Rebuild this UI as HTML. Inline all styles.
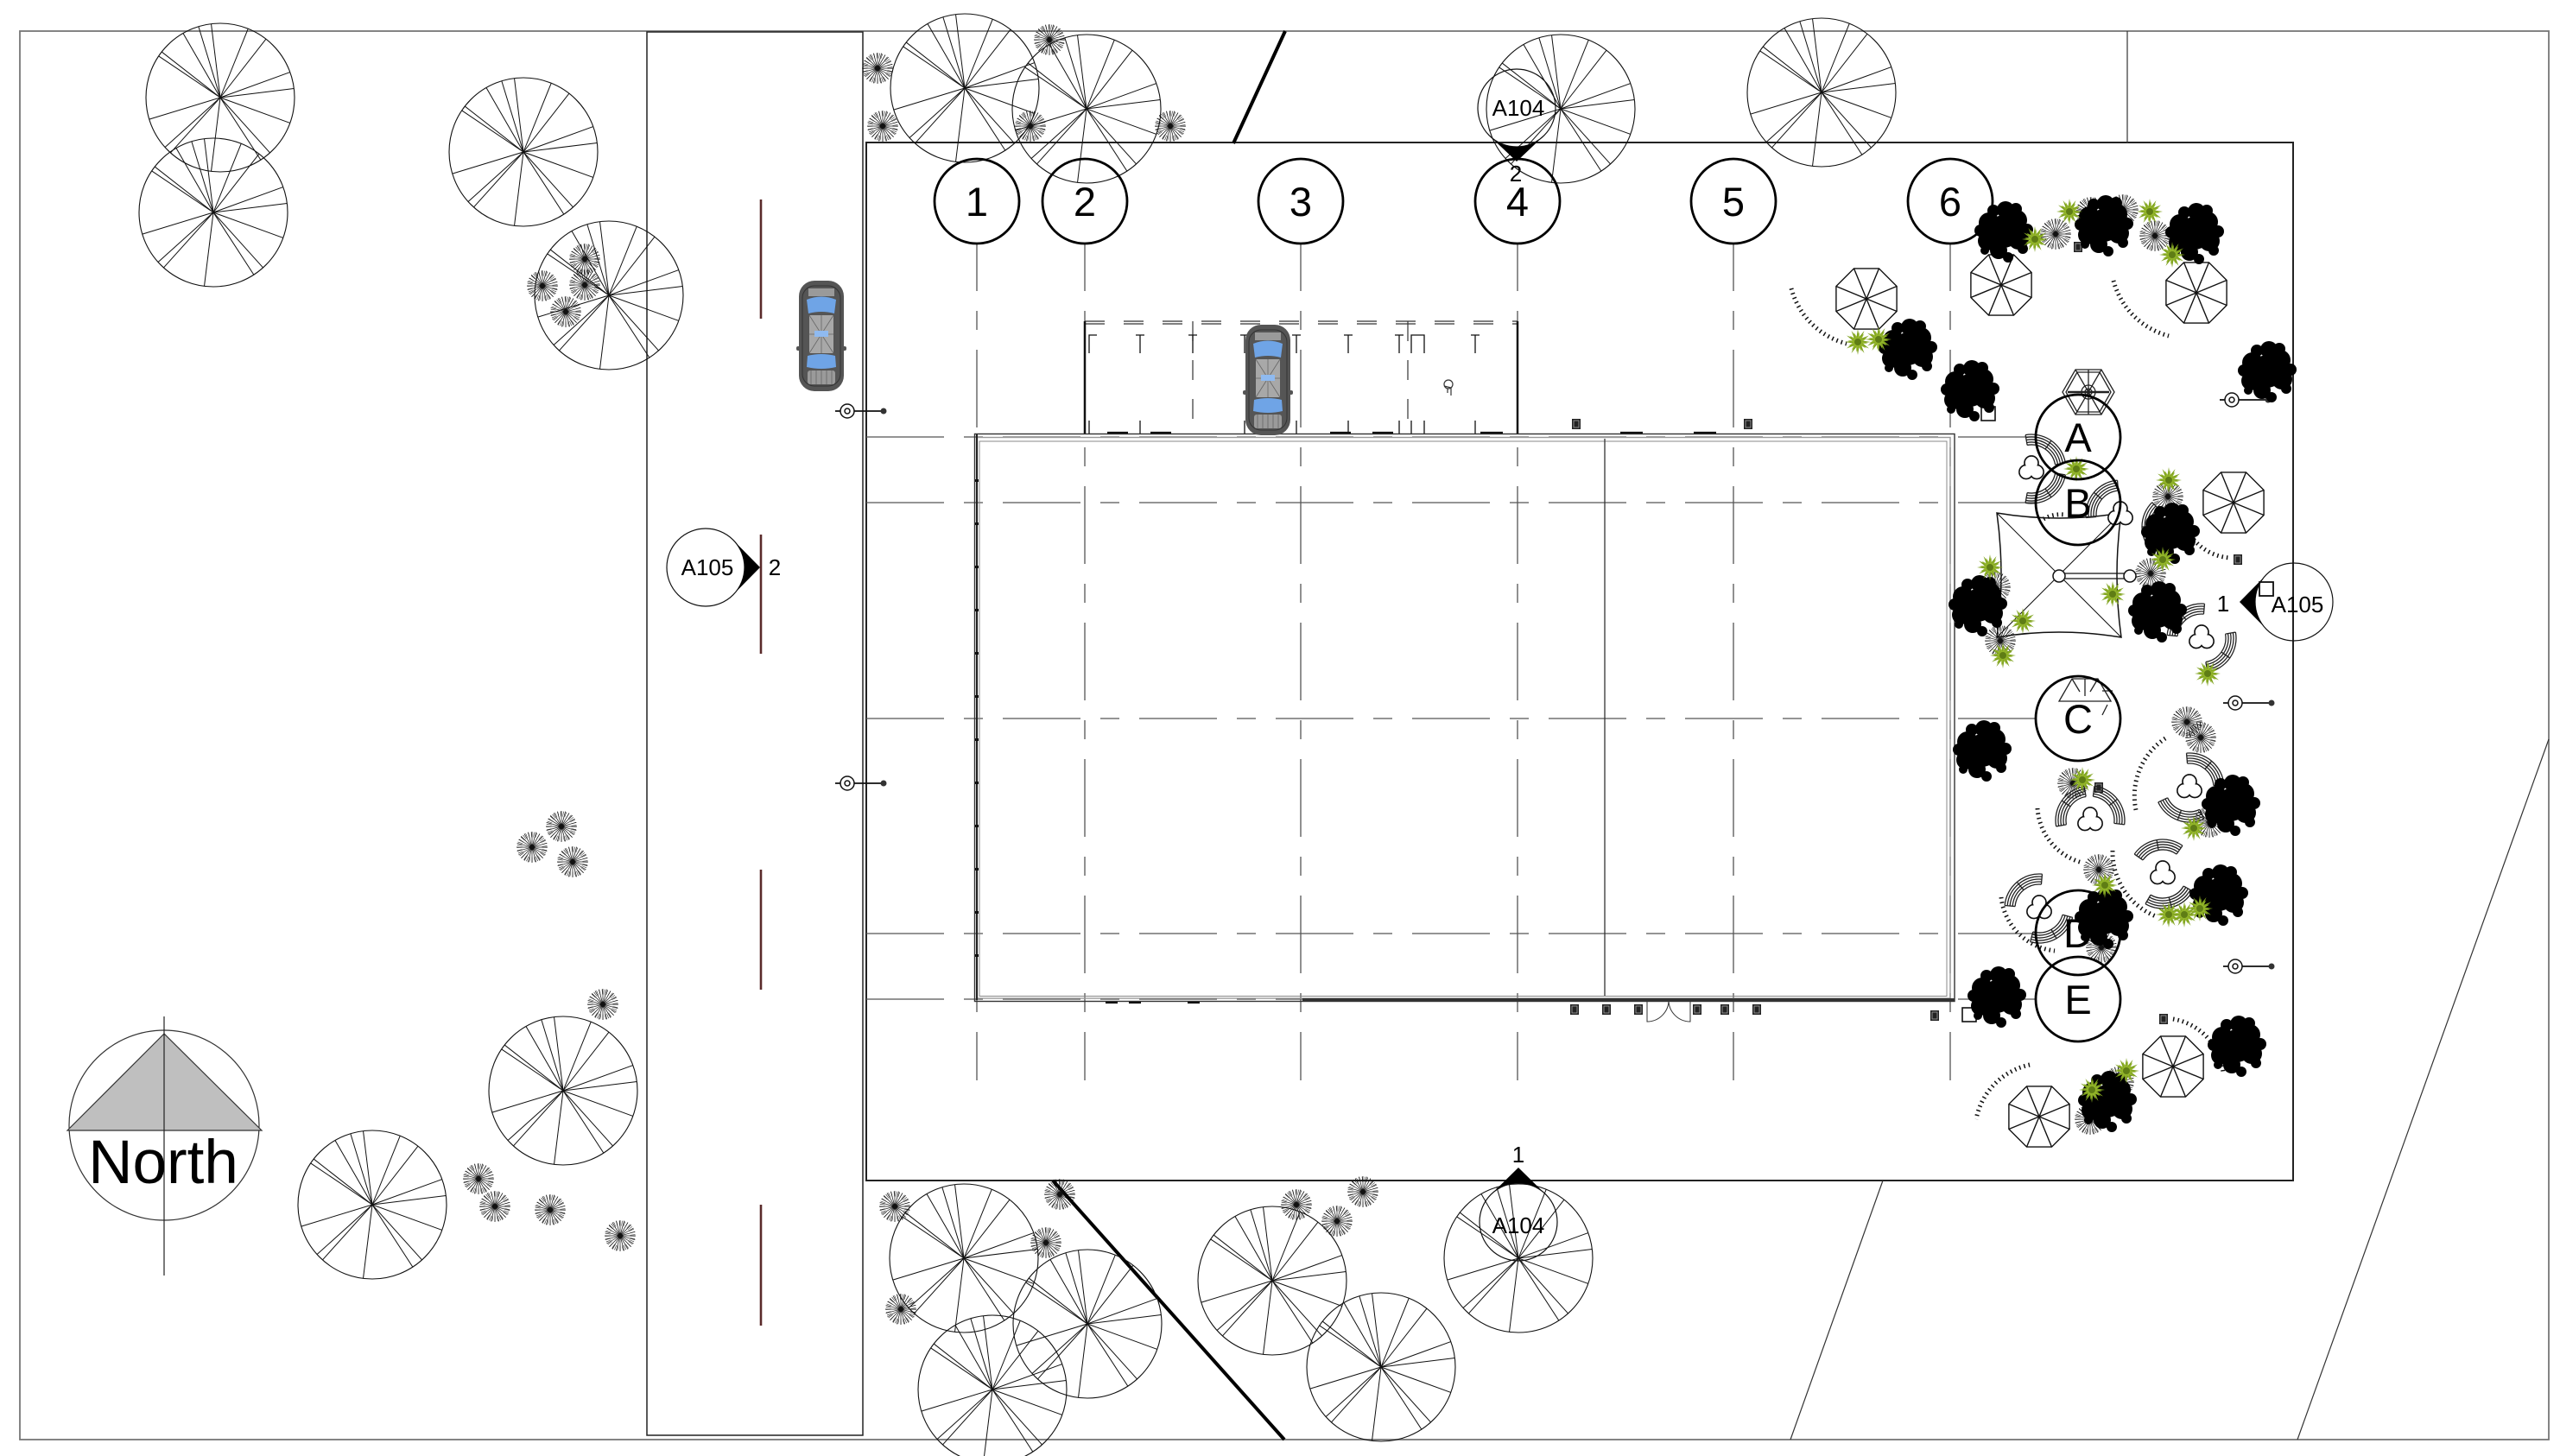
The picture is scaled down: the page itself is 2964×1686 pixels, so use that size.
<!DOCTYPE html>
<html><head><meta charset="utf-8">
<style>
html,body{margin:0;padding:0;background:#fff;}
svg{display:block;}
text{font-family:"Liberation Sans",Arial,sans-serif;fill:#000;}
</style></head>
<body>
<svg width="2964" height="1686" viewBox="0 0 2964 1686" xmlns="http://www.w3.org/2000/svg">
<defs>
<g id="tree" fill="none" stroke="#111" stroke-width="1">
 <circle r="86" stroke-width="1.1"/>
 <line x2="86" transform="rotate(-146)"/><line x2="86" transform="rotate(-142)"/>
 <line x2="86" transform="rotate(-120)"/><line x2="86" transform="rotate(-107)"/>
 <line x2="86" transform="rotate(-97)"/><line x2="86" transform="rotate(-68)"/>
 <line x2="86" transform="rotate(-52)"/><line x2="86" transform="rotate(-20)"/>
 <line x2="86" transform="rotate(-7)"/><line x2="86" transform="rotate(20)"/>
 <line x2="86" transform="rotate(48)"/><line x2="86" transform="rotate(57)"/>
 <line x2="86" transform="rotate(97)"/><line x2="86" transform="rotate(132)"/>
 <line x2="86" transform="rotate(138)"/><line x2="86" transform="rotate(163)"/>
</g>
<g id="shrub" fill="none" stroke="#111">
 <path stroke-width="0.7" d="M-18 0L18 0M-17.39-4.66L17.39 4.66M-15.59-9L15.59 9M-12.73-12.73L12.73 12.73M-9-15.59L9 15.59M-4.66-17.39L4.66 17.39M0-18L0 18M4.66-17.39L-4.66 17.39M9-15.59L-9 15.59M12.73-12.73L-12.73 12.73M15.59-9L-15.59 9M17.39-4.66L-17.39 4.66"/>
 <circle r="14.5" stroke-width="6" stroke-dasharray="0.5 2.3"/>
</g>
<g id="umb" fill="none" stroke="#111" stroke-width="1.4">
 <polygon points="35.1,14.5 14.5,35.1 -14.5,35.1 -35.1,14.5 -35.1,-14.5 -14.5,-35.1 14.5,-35.1 35.1,-14.5"/>
 <path d="M35.1,14.5L-35.1,-14.5M14.5,35.1L-14.5,-35.1M-14.5,35.1L14.5,-35.1M-35.1,14.5L35.1,-14.5"/>
</g>
<g id="seat" fill="none" stroke="#222" stroke-width="1.3">
 <path d="M19.80,-19.80A28,28 0 0 1 19.80,19.80M21.92,-21.92A31,31 0 0 1 21.92,21.92M24.04,-24.04A34,34 0 0 1 24.04,24.04M26.16,-26.16A37,37 0 0 1 26.16,26.16M28.28,-28.28A40,40 0 0 1 28.28,28.28M19.80,-19.80L28.28,-28.28M19.80,19.80L28.28,28.28M28,0L40,0"/>
</g>
<g id="tref">
 <g fill="none" stroke="#111" stroke-width="1.7"><circle cx="0" cy="-7" r="8"/><circle cx="6.1" cy="3.5" r="8"/><circle cx="-6.1" cy="3.5" r="8"/></g>
 <g fill="#fff"><circle cx="0" cy="-7" r="7.1"/><circle cx="6.1" cy="3.5" r="7.1"/><circle cx="-6.1" cy="3.5" r="7.1"/><circle r="4"/></g>
</g>
<g id="blob" fill="#000">
 <circle r="19"/><circle cx="-17" cy="-10" r="12"/><circle cx="15" cy="-13" r="12"/>
 <circle cx="-19" cy="11" r="11"/><circle cx="17" cy="9" r="12"/><circle cx="2" cy="-25" r="10"/>
 <circle cx="-6" cy="22" r="10"/><circle cx="5" cy="30" r="6"/><circle cx="-27" cy="-1" r="7"/>
 <circle cx="27" cy="-2" r="7"/><circle cx="-12" cy="-24" r="7"/><circle cx="14" cy="-26" r="7"/>
 <circle cx="22" cy="20" r="6"/><circle cx="-22" cy="22" r="5"/>
</g>
<g id="plant">
 <polygon fill="#7fa21f" points="15,0 5.8,1.55 12.99,7.5 4.24,4.24 7.5,12.99 1.55,5.8 0,15 -1.55,5.8 -7.5,12.99 -4.24,4.24 -12.99,7.5 -5.8,1.55 -15,0 -5.8,-1.55 -12.99,-7.5 -4.24,-4.24 -7.5,-12.99 -1.55,-5.8 0,-15 1.55,-5.8 7.5,-12.99 4.24,-4.24 12.99,-7.5 5.8,-1.55"/>
 <polygon fill="#93b52a" transform="rotate(8) scale(0.8)" points="15,0 5.8,1.55 12.99,7.5 4.24,4.24 7.5,12.99 1.55,5.8 0,15 -1.55,5.8 -7.5,12.99 -4.24,4.24 -12.99,7.5 -5.8,1.55 -15,0 -5.8,-1.55 -12.99,-7.5 -4.24,-4.24 -7.5,-12.99 -1.55,-5.8 0,-15 1.55,-5.8 7.5,-12.99 4.24,-4.24 12.99,-7.5 5.8,-1.55"/>
 <circle r="4" fill="#5f7d15"/>
</g>
<g id="lamp">
 <line x1="-14" x2="42" stroke="#111" stroke-width="1.8"/>
 <circle r="8" fill="#fff" stroke="#111" stroke-width="1.5"/>
 <circle r="3" fill="none" stroke="#111" stroke-width="1.5"/>
 <circle cx="42" r="3.5" fill="#333"/>
</g>
<g id="bin"><rect x="-5" y="-6" width="10" height="12" fill="#222"/><rect x="-3" y="-4" width="6" height="8" fill="none" stroke="#aaa" stroke-width="0.8"/></g>
<g id="car">
 <rect x="0" y="0" width="52" height="128" rx="18" fill="#555"/>
 <rect x="-3" y="76" width="58" height="5" rx="2" fill="#555"/>
 <rect x="4" y="6" width="44" height="116" rx="14" fill="none" stroke="#333" stroke-width="1"/>
 <rect x="11" y="9" width="30" height="9" fill="#9a9a9a"/>
 <path d="M9,22 Q26,15 43,22 L41,38 Q26,34 11,38 Z" fill="#6fa4e6"/>
 <rect x="12" y="40" width="28" height="44" fill="#a8a8a8"/>
 <path d="M12,40 L40,84 M40,40 L12,84 M26,40 L26,84 M12,62 L40,62" stroke="#666" stroke-width="0.8" fill="none"/>
 <rect x="18" y="58" width="16" height="7" fill="#8fbaf0"/>
 <path d="M10,87 Q26,83 42,87 L43,100 Q26,104 9,100 Z" fill="#6fa4e6"/>
 <rect x="10" y="104" width="32" height="16" rx="3" fill="#9a9a9a"/>
 <path d="M14,104 L14,120 M20,104 L20,120 M26,104 L26,120 M32,104 L32,120 M38,104 L38,120" stroke="#666" stroke-width="0.8" fill="none"/>
</g>
</defs>

<!-- outer boundary -->
<rect x="23" y="36" width="2928" height="1631" fill="none" stroke="#777" stroke-width="1.8"/>
<!-- road strip -->
<rect x="749" y="37" width="250" height="1625" fill="none" stroke="#222" stroke-width="1.5"/>
<g stroke="#5a2a2a" stroke-width="2.6">
 <line x1="881" y1="231" x2="881" y2="369"/>
 <line x1="881" y1="619" x2="881" y2="757"/>
 <line x1="881" y1="1007" x2="881" y2="1146"/>
 <line x1="881" y1="1395" x2="881" y2="1535"/>
</g>
<!-- site -->
<rect x="1003" y="165" width="1652" height="1202" fill="none" stroke="#222" stroke-width="2"/>
<!-- diagonals -->
<line x1="1488" y1="36" x2="1428" y2="166" stroke="#000" stroke-width="4"/>
<line x1="1219" y1="1367" x2="1487" y2="1667" stroke="#000" stroke-width="4"/>
<g stroke="#333" stroke-width="1.2">
 <line x1="2463" y1="36" x2="2463" y2="166"/>
 <line x1="2951" y1="856" x2="2660" y2="1667"/>
 <line x1="2180" y1="1367" x2="2073" y2="1667"/>
</g>

<!-- trees -->
<use href="#tree" x="255" y="113"/>
<use href="#tree" x="247" y="246"/>
<use href="#tree" x="606" y="176"/>
<use href="#tree" x="705" y="342"/>
<use href="#tree" x="1117" y="102"/>
<use href="#tree" x="1258" y="126"/>
<use href="#tree" x="1807" y="126"/>
<use href="#tree" x="2109" y="107"/>
<use href="#tree" x="1116" y="1457"/>
<use href="#tree" x="1259" y="1533"/>
<use href="#tree" x="1149" y="1609"/>
<use href="#tree" x="1473" y="1483"/>
<use href="#tree" x="1599" y="1583"/>
<use href="#tree" x="1758" y="1457"/>
<use href="#tree" x="652" y="1263"/>
<use href="#tree" x="431" y="1395"/>

<!-- shrubs -->
<use href="#shrub" x="677" y="300"/><use href="#shrub" x="628" y="331"/><use href="#shrub" x="677" y="330"/><use href="#shrub" x="655" y="361"/>
<use href="#shrub" x="1016" y="79"/><use href="#shrub" x="1022" y="146"/><use href="#shrub" x="1215" y="46"/><use href="#shrub" x="1193" y="146"/><use href="#shrub" x="1355" y="146"/>
<use href="#shrub" x="1036" y="1397"/><use href="#shrub" x="1227" y="1383"/><use href="#shrub" x="1211" y="1439"/><use href="#shrub" x="1043" y="1516"/><use href="#shrub" x="1501" y="1395"/><use href="#shrub" x="1548" y="1414"/><use href="#shrub" x="1578" y="1380"/>
<use href="#shrub" x="650" y="957"/><use href="#shrub" x="616" y="981"/><use href="#shrub" x="663" y="998"/><use href="#shrub" x="698" y="1163"/><use href="#shrub" x="554" y="1365"/><use href="#shrub" x="573" y="1397"/><use href="#shrub" x="637" y="1401"/><use href="#shrub" x="718" y="1431"/>

<!-- grid lines -->
<g stroke="#555" stroke-width="1.3" stroke-dasharray="90 23 22 23" fill="none">
 <line x1="1131" y1="282" x2="1131" y2="1251" stroke-dashoffset="35"/>
 <line x1="1256" y1="282" x2="1256" y2="1251" stroke-dashoffset="35"/>
 <line x1="1506" y1="282" x2="1506" y2="1251" stroke-dashoffset="35"/>
 <line x1="1757" y1="282" x2="1757" y2="1251" stroke-dashoffset="35"/>
 <line x1="2007" y1="282" x2="2007" y2="1251" stroke-dashoffset="35"/>
 <line x1="2258" y1="282" x2="2258" y2="1251" stroke-dashoffset="35"/>
 <line x1="1003" y1="506" x2="2357" y2="506"/>
 <line x1="1003" y1="582" x2="2357" y2="582"/>
 <line x1="1003" y1="832" x2="2357" y2="832"/>
 <line x1="1003" y1="1081" x2="2357" y2="1081"/>
 <line x1="1003" y1="1157" x2="2357" y2="1157"/>
</g>

<!-- building -->
<rect x="1128.5" y="502.5" width="1134.5" height="657" fill="none" stroke="#333" stroke-width="1.4"/>
<rect x="1131.5" y="506.5" width="1126.5" height="649.5" fill="none" stroke="#999" stroke-width="1.4"/>
<rect x="1134" y="511" width="1120" height="642.5" fill="none" stroke="#888" stroke-width="1"/>
<line x1="1131" y1="503" x2="1131" y2="1158" stroke="#222" stroke-width="2"/>
<line x1="1858" y1="508" x2="1858" y2="1153" stroke="#333" stroke-width="1.3"/>
<line x1="1508" y1="1157.5" x2="2263" y2="1157.5" stroke="#333" stroke-width="3"/>
<g fill="#111">
 <rect x="1129" y="555" width="4" height="3"/><rect x="1129" y="605" width="4" height="3"/><rect x="1129" y="655" width="4" height="3"/><rect x="1129" y="705" width="4" height="3"/><rect x="1129" y="755" width="4" height="3"/><rect x="1129" y="805" width="4" height="3"/><rect x="1129" y="855" width="4" height="3"/><rect x="1129" y="905" width="4" height="3"/><rect x="1129" y="955" width="4" height="3"/><rect x="1129" y="1005" width="4" height="3"/><rect x="1129" y="1055" width="4" height="3"/><rect x="1129" y="1105" width="4" height="3"/>
</g>
<!-- wheel stops -->
<g stroke="#111" stroke-width="2.2">
 <line x1="1282" y1="501" x2="1306" y2="501"/><line x1="1332" y1="501" x2="1356" y2="501"/><line x1="1540" y1="501" x2="1564" y2="501"/><line x1="1589" y1="501" x2="1613" y2="501"/><line x1="1714" y1="501" x2="1740" y2="501"/><line x1="1876" y1="501" x2="1902" y2="501"/><line x1="1961" y1="501" x2="1987" y2="501"/>
 <line x1="1280" y1="1161" x2="1294" y2="1161"/><line x1="1307" y1="1161" x2="1321" y2="1161"/><line x1="1375" y1="1161" x2="1389" y2="1161"/>
</g>
<!-- parking -->
<g fill="none" stroke="#333" stroke-width="1.2" stroke-dasharray="23 22">
 <line x1="1256" y1="372" x2="1757" y2="372"/>
 <line x1="1256" y1="375" x2="1757" y2="375"/>
 <line x1="1381" y1="372" x2="1381" y2="502"/>
 <line x1="1630" y1="372" x2="1630" y2="502"/>
</g>
<line x1="1256" y1="372" x2="1256" y2="502" stroke="#111" stroke-width="2.5"/>
<line x1="1757" y1="372" x2="1757" y2="502" stroke="#111" stroke-width="2.5"/>
<g stroke="#111" stroke-width="1.3" fill="none">
 <path d="M1261,409V388H1270M1261,487V502"/>
 <path d="M1320,409V388M1315,388H1325M1320,487V502"/>
 <path d="M1381,409V388M1376,388H1386"/>
 <path d="M1441,409V388M1436,388H1446M1441,487V502"/>
 <path d="M1501,409V388M1496,388H1506M1501,487V502"/>
 <path d="M1561,409V388M1556,388H1566M1561,487V502"/>
 <path d="M1620,409V388M1615,388H1625M1620,487V502"/>
 <path d="M1634,409V388H1649V409M1634,487V502M1649,487V502"/>
 <path d="M1708,409V388M1703,388H1713M1708,487V502"/>
</g>
<g fill="none" stroke="#333" stroke-width="1.2">
 <circle cx="1677" cy="445" r="5"/><path d="M1672,447 L1680,449 L1680,458 M1676,450 L1676,455"/>
</g>
<!-- cars -->
<use href="#car" x="925" y="325"/>
<use href="#car" x="1442" y="376"/>
<!-- lamps -->
<use href="#lamp" x="981" y="476"/>
<use href="#lamp" x="981" y="907"/>
<use href="#lamp" x="2584" y="463"/>
<use href="#lamp" x="2588" y="814"/>
<use href="#lamp" x="2588" y="1119"/>
<!-- bins -->
<use href="#bin" x="1825" y="491"/><use href="#bin" x="2024" y="491"/><use href="#bin" x="2406" y="286"/><use href="#bin" x="2591" y="648"/><use href="#bin" x="2430" y="912"/><use href="#bin" x="2505" y="1180"/>
<use href="#bin" x="1823" y="1169"/><use href="#bin" x="1860" y="1169"/><use href="#bin" x="1897" y="1169"/><use href="#bin" x="1965" y="1169"/><use href="#bin" x="1997" y="1169"/><use href="#bin" x="2034" y="1169"/><use href="#bin" x="2240" y="1176"/>
<g fill="#fff" stroke="#111" stroke-width="1.6">
 <rect x="2294" y="471" width="16" height="16"/>
 <rect x="2272" y="1167" width="16" height="16"/>
 <rect x="2616" y="674" width="16" height="16"/>
</g>
<!-- door -->
<path d="M1907,1158 L1907,1183 A25,25 0 0 0 1932,1158 M1957,1158 L1957,1183 A25,25 0 0 1 1932,1158" fill="none" stroke="#333" stroke-width="1"/>

<!-- landscape right -->
<g fill="none" stroke="#111" stroke-width="5" stroke-dasharray="1.5 4">
 <path d="M2074,334 A90,90 0 0 0 2138,398"/>
 <path d="M2447,325 A90,90 0 0 0 2511,389"/>
 <path d="M2540,625 A60,60 0 0 0 2583,646"/>
 <path d="M2507,855 A80,80 0 0 0 2473,938"/>
 <path d="M2359,936 A70,70 0 0 0 2411,999"/>
 <path d="M2446,985 A80,80 0 0 0 2496,1061"/>
 <path d="M2317,1039 A70,70 0 0 0 2379,1101"/>
 <path d="M2516,1180 A70,70 0 0 1 2574,1242"/>
 <path d="M2350,1233 A80,80 0 0 0 2288,1296"/>
 <path d="M2366,601 A40,40 0 0 1 2390,596"/>
</g>
<use href="#umb" x="2317" y="330"/>
<use href="#umb" x="2543" y="339"/>
<use href="#umb" x="2161" y="346"/>
<use href="#umb" x="2586" y="582"/>
<use href="#umb" x="2516" y="1235"/>
<use href="#umb" x="2361" y="1293"/>
<!-- hexagons -->
<g fill="none" stroke="#222" stroke-width="1.3">
 <polygon points="2448,454 2433,428 2403,428 2388,454 2403,480 2433,480"/>
 <polygon points="2444,454 2431,431 2405,431 2392,454 2405,477 2431,477"/>
 <path d="M2418,428V480M2403,428L2433,480M2433,428L2403,480"/>
 <line x1="2394" y1="454" x2="2442" y2="454" stroke-width="2.4"/>
 <circle cx="2418" cy="454" r="8"/><circle cx="2418" cy="454" r="4"/>
 <polygon points="2444,812 2429,786 2399,786 2384,812"/>
 <path d="M2414,786V806M2399,786L2408,801M2429,786L2420,801M2434,800H2446M2434,828L2440,816"/>
</g>
<!-- canopy -->
<g fill="none" stroke="#111" stroke-width="1.5">
 <path d="M2312,594 Q2384,606 2456,594 Q2446,666 2456,738 Q2384,726 2312,738 Q2322,666 2312,594 Z"/>
 <path d="M2312,594 L2456,738 M2456,594 L2312,738" stroke-width="1"/>
 <path d="M2384,664 H2466 M2384,670 H2466" stroke-width="1.3"/>
 <circle cx="2384" cy="667" r="7" fill="#fff"/>
 <circle cx="2466" cy="667" r="7" fill="#fff"/>
</g>
<!-- seats & tables -->
<use href="#seat" transform="translate(2352,543) rotate(-55)"/>
<use href="#seat" transform="translate(2352,543) rotate(55)"/>
<use href="#seat" transform="translate(2455,596) rotate(-140)"/>
<use href="#seat" transform="translate(2520,610) rotate(180)"/>
<use href="#seat" transform="translate(2549,739) rotate(-130)"/>
<use href="#seat" transform="translate(2549,739) rotate(35)"/>
<use href="#seat" transform="translate(2535,912) rotate(-50)"/>
<use href="#seat" transform="translate(2535,912) rotate(110)"/>
<use href="#seat" transform="translate(2420,950) rotate(-145)"/>
<use href="#seat" transform="translate(2420,950) rotate(-38)"/>
<use href="#seat" transform="translate(2504,1012) rotate(-100)"/>
<use href="#seat" transform="translate(2504,1012) rotate(75)"/>
<use href="#seat" transform="translate(2361,1052) rotate(-130)"/>
<use href="#seat" transform="translate(2361,1052) rotate(60)"/>
<use href="#tref" x="2352" y="543"/><use href="#tref" x="2455" y="596"/><use href="#tref" x="2549" y="739"/><use href="#tref" x="2535" y="912"/><use href="#tref" x="2420" y="950"/><use href="#tref" x="2504" y="1012"/><use href="#tref" x="2361" y="1052"/>
<!-- shrubs right -->
<use href="#shrub" x="2380" y="271"/><use href="#shrub" x="2421" y="246"/><use href="#shrub" x="2458" y="243"/><use href="#shrub" x="2495" y="273"/>
<use href="#shrub" x="2510" y="575"/><use href="#shrub" x="2490" y="664"/><use href="#shrub" x="2316" y="742"/><use href="#shrub" x="2310" y="680"/>
<use href="#shrub" x="2532" y="836"/><use href="#shrub" x="2548" y="854"/><use href="#shrub" x="2400" y="907"/><use href="#shrub" x="2558" y="952"/><use href="#shrub" x="2430" y="1007"/><use href="#shrub" x="2433" y="1097"/><use href="#shrub" x="2453" y="1253"/><use href="#shrub" x="2420" y="1296"/>
<!-- blobs -->
<use href="#blob" x="2320" y="268"/><use href="#blob" x="2436" y="261"/><use href="#blob" x="2541" y="270"/>
<use href="#blob" x="2209" y="404"/><use href="#blob" x="2281" y="452"/><use href="#blob" x="2625" y="430"/>
<use href="#blob" x="2290" y="701"/><use href="#blob" x="2513" y="617"/><use href="#blob" x="2498" y="708"/>
<use href="#blob" x="2295" y="869"/><use href="#blob" x="2583" y="932"/><use href="#blob" x="2569" y="1036"/>
<use href="#blob" x="2436" y="1063"/><use href="#blob" x="2312" y="1154"/><use href="#blob" x="2590" y="1211"/><use href="#blob" x="2440" y="1275"/>
<!-- plants -->
<use href="#plant" x="2356" y="277"/><use href="#plant" x="2396" y="245"/><use href="#plant" x="2489" y="245"/><use href="#plant" x="2515" y="295"/>
<use href="#plant" x="2151" y="396"/><use href="#plant" x="2175" y="393"/>
<use href="#plant" x="2404" y="543"/><use href="#plant" x="2511" y="556"/><use href="#plant" x="2504" y="648"/><use href="#plant" x="2304" y="657"/>
<use href="#plant" x="2446" y="688"/><use href="#plant" x="2342" y="719"/><use href="#plant" x="2319" y="759"/><use href="#plant" x="2556" y="780"/>
<use href="#plant" x="2411" y="903"/><use href="#plant" x="2540" y="959"/><use href="#plant" x="2437" y="1025"/><use href="#plant" x="2511" y="1059"/>
<use href="#plant" x="2529" y="1059"/><use href="#plant" x="2547" y="1052"/><use href="#plant" x="2422" y="1262"/><use href="#plant" x="2462" y="1240"/>

<!-- grid bubbles -->
<g fill="none" stroke="#000" stroke-width="2.8">
 <circle cx="1131" cy="233" r="49"/><circle cx="1256" cy="233" r="49"/><circle cx="1506" cy="233" r="49"/>
 <circle cx="1757" cy="233" r="49"/><circle cx="2007" cy="233" r="49"/><circle cx="2258" cy="233" r="49"/>
 <circle cx="2406" cy="506" r="49"/><circle cx="2406" cy="582" r="49"/><circle cx="2406" cy="832" r="49"/>
 <circle cx="2406" cy="1080" r="49"/><circle cx="2406" cy="1157" r="49"/>
</g>
<g font-size="47" text-anchor="middle">
 <text x="1131" y="250">1</text><text x="1256" y="250">2</text><text x="1506" y="250">3</text>
 <text x="1757" y="250">4</text><text x="2007" y="250">5</text><text x="2258" y="250">6</text>
 <text x="2406" y="523">A</text><text x="2406" y="599">B</text><text x="2406" y="849">C</text>
 <text x="2406" y="1097">D</text><text x="2406" y="1174">E</text>
</g>

<!-- section markers -->
<g fill="none" stroke="#111" stroke-width="1.2">
 <circle cx="1756" cy="125" r="45"/>
 <circle cx="1758" cy="1415" r="45"/>
 <circle cx="817" cy="657" r="45"/>
 <circle cx="2656" cy="697" r="45"/>
</g>
<g fill="#000">
 <path d="M1725.6,158.2 L1756,187 L1786.4,158.2 A45,45 0 0 1 1725.6,158.2 Z"/>
 <path d="M1725.9,1383.5 L1758,1352 L1790.1,1383.5 A45,45 0 0 0 1725.9,1383.5 Z"/>
 <path d="M849,625.5 L880,657 L849,688.5 A45,45 0 0 0 849,625.5 Z"/>
 <path d="M2624,665.5 L2593,697 L2624,728.5 A45,45 0 0 1 2624,665.5 Z"/>
</g>
<g font-size="26" text-anchor="middle">
 <text x="1758" y="134">A104</text>
 <text x="1755" y="210">2</text>
 <text x="1758" y="1428">A104</text>
 <text x="1758" y="1346">1</text>
 <text x="819" y="666">A105</text>
 <text x="897" y="666">2</text>
 <text x="2660" y="709">A105</text>
 <text x="2574" y="708">1</text>
</g>
<rect x="2616" y="674" width="16" height="16" fill="none" stroke="#111" stroke-width="1.6"/>

<!-- north arrow -->
<circle cx="190" cy="1303" r="110" fill="none" stroke="#333" stroke-width="1.2"/>
<polygon points="190,1197 78,1309 303,1309" fill="#bfbfbf" stroke="#333" stroke-width="1.2"/>
<line x1="190" y1="1177" x2="190" y2="1477" stroke="#222" stroke-width="1.2"/>
<text x="189" y="1370" font-size="71" text-anchor="middle">North</text>
</svg>
</body></html>
